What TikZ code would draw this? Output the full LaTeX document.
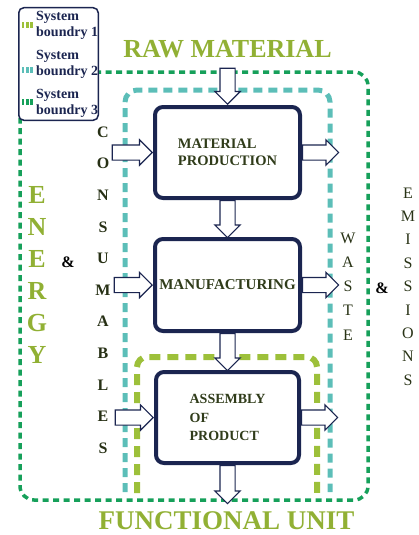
\documentclass[tikz,border=0pt]{standalone}
\usepackage{fontspec}
\setmainfont{Liberation Serif}
\usetikzlibrary{positioning,shapes.arrows}
\definecolor{navy}{RGB}{27,37,80}
\definecolor{bndone}{RGB}{157,192,58}
\definecolor{bndtwo}{RGB}{92,190,184}
\definecolor{bndthree}{RGB}{22,160,90}
\definecolor{ttlgreen}{RGB}{145,176,52}
\definecolor{darkolive}{RGB}{48,60,26}
\tikzset{
  blk/.style={draw=navy,rectangle,rounded corners=8pt,line width=4pt,fill=white,minimum width=145pt,minimum height=91pt,align=left,text=darkolive,font=\fontsize{14.5}{17}\selectfont\bfseries},
  blkarr/.style={single arrow,draw=navy,fill=white,line width=1.2pt,inner xsep=0pt,inner ysep=7pt,single arrow head extend=5pt,minimum height=36pt},
  bnd1/.style={draw=bndone,line width=6pt,dash pattern=on 11pt off 7pt},
  bnd2/.style={draw=bndtwo,line width=5pt,dash pattern=on 9pt off 6pt},
  bnd3/.style={draw=bndthree,line width=3.5pt,dash pattern=on 6pt off 4.5pt},
  lgdmark/.style={line width=6pt,dash pattern=on 2.4pt off 1.8pt},
  ttl/.style={text=ttlgreen,inner sep=0pt,font=\fontsize{27}{30}\selectfont\bfseries},
  vword/.style={align=center,inner sep=0pt},
  lgd/.style={anchor=west,align=left,inner sep=1pt,text=navy,font=\fontsize{14}{16}\selectfont\bfseries}
}

\begin{document}
\begin{tikzpicture}[x=1pt,y=-1pt]
  \useasboundingbox (0,0) rectangle (419,535);

  \draw[bnd3,rounded corners=14pt] (20,72) rectangle (368,500);
  \draw[bnd2,rounded corners=12pt] (125,492) -- (125,90) -- (330,90) -- (330,492);
  \draw[bnd1,rounded corners=10pt] (137,493) -- (137,357) -- (317,357) -- (317,493);

  \node[draw=navy,fill=white,rounded corners=5pt,line width=1.5pt,minimum width=79.5pt,minimum height=112.5pt] (legend) at (58.5,64) {};
  \node[lgd] (lgdone) at (35,25) {System\\boundry 1};
  \node[lgd] (lgdtwo) at (35,64) {System\\boundry 2};
  \node[lgd] (lgdthree) at (35,103) {System\\boundry 3};
  \draw[lgdmark,bndone] (22,25) -- (34,25);
  \draw[lgdmark,bndtwo] (22,70) -- (34,70);
  \draw[lgdmark,bndthree] (22,102) -- (34,102);

  \node[blk] (matprod) at (227.5,152.5) {MATERIAL\\PRODUCTION};
  \node[blk,below=37pt of matprod,minimum height=92pt,font=\fontsize{15}{17}\selectfont\bfseries] (manuf) {MANUFACTURING};
  \node[blk,below=37pt of manuf,minimum width=143pt,font=\fontsize{14}{18.5}\selectfont\bfseries] (assembly) {ASSEMBLY\\OF\\PRODUCT};

  \node[blkarr,rotate=-90,anchor=tip] (rawin) at (matprod.north) {};
  \node[blkarr,rotate=-90,anchor=tail,minimum height=37pt] (step12) at (matprod.south) {};
  \node[blkarr,rotate=-90,anchor=tail,minimum height=37pt] (step23) at (manuf.south) {};
  \node[blkarr,rotate=-90,anchor=tail,minimum height=38pt] (fuout) at (assembly.south) {};

  \node[blkarr,anchor=tip,minimum height=40pt] (conin1) at (matprod.west) {};
  \node[blkarr,anchor=tip,minimum height=38pt] (conin2) at (manuf.west) {};
  \node[blkarr,anchor=tip,minimum height=38pt] (conin3) at (assembly.west) {};
  \node[blkarr,anchor=tail] (wstout1) at (matprod.east) {};
  \node[blkarr,anchor=tail] (wstout2) at (manuf.east) {};
  \node[blkarr,anchor=tail] (wstout3) at (assembly.east) {};

  \node[ttl,font=\fontsize{26}{30}\selectfont\bfseries] (rawmat) at (227.5,49) {RAW MATERIAL};
  \node[ttl] (funit) at (226.5,521) {FUNCTIONAL UNIT};

  \node[vword,text=ttlgreen,font=\fontsize{26}{32}\selectfont\bfseries] (energy) at (37,275) {E\\N\\E\\R\\G\\Y};
  \node[font=\fontsize{16}{16}\selectfont\bfseries] (ampl) at (68,262) {\&};
  \node[vword,text=darkolive!80!black,font=\fontsize{16}{31.6}\selectfont\bfseries] (consum) at (103,290) {C\\O\\N\\S\\U\\M\\A\\B\\L\\E\\S};
  \node[vword,text=darkolive!85!black,font=\fontsize{16}{24.25}\selectfont] (waste) at (348,286.5) {W\\A\\S\\T\\E};
  \node[font=\fontsize{16}{16}\selectfont\bfseries] (ampr) at (382,288) {\&};
  \node[vword,text=darkolive!85!black,font=\fontsize{16}{23.4}\selectfont] (emiss) at (408,286.5) {E\\M\\I\\S\\S\\I\\O\\N\\S};
\end{tikzpicture}
\end{document}
